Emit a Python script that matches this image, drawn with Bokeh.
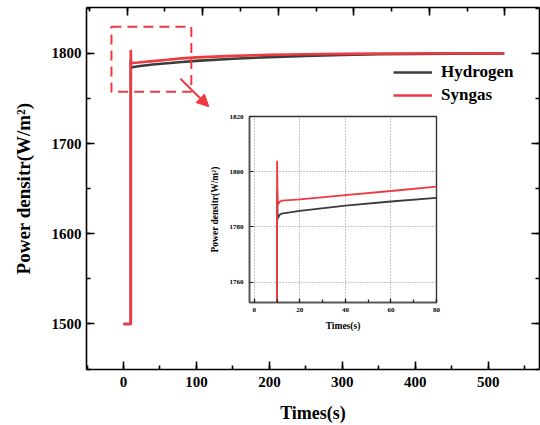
from bokeh.plotting import figure
from bokeh.models import (Range1d, LinearAxis, SingleIntervalTicker, Legend, LegendItem,
                          BoxAnnotation, Arrow, NormalHead, CustomJSTickFormatter)
from bokeh.layouts import column
from bokeh.embed import file_html
from bokeh.resources import INLINE

# ---------------- data ----------------
time_h = [0, 10, 10, 10.3, 11, 12, 20, 40, 60, 80, 100, 150, 200, 250, 300, 350, 400, 450, 522]
hydrogen = [1500, 1500, 1793, 1783.0, 1784.3, 1784.8, 1785.8, 1787.7, 1789.2, 1790.5, 1791.8,
            1794.2, 1796.0, 1797.4, 1798.4, 1799.1, 1799.6, 1799.8, 1800]
time_s = [0, 10, 10, 10.3, 11, 12, 20, 40, 60, 80, 100, 150, 200, 250, 300, 350, 400, 450, 522]
syngas = [1500, 1500, 1804, 1787.8, 1789.0, 1789.5, 1790.0, 1791.5, 1793.0, 1794.6, 1795.7,
          1797.4, 1798.5, 1799.2, 1799.6, 1799.8, 1799.9, 1800, 1800]
series_names = ["Hydrogen", "Syngas"]

BLACK = "#3c3c3c"
RED = "#ec3a40"
FONT = "Liberation Serif"

# ---------------- main figure ----------------
p = figure(width=540, height=425, frame_width=453, frame_height=362,
           output_backend="svg", toolbar_location=None,
           x_range=Range1d(-50.7, 570.3), y_range=Range1d(1449.5, 1851),
           min_border_left=86, min_border_right=1, min_border_top=7, min_border_bottom=56,
           x_axis_location=None, y_axis_location=None)
p.outline_line_color = None
p.xgrid.visible = False
p.ygrid.visible = False
p.background_fill_color = "white"
p.border_fill_color = "white"
p.extra_x_ranges = {"top": Range1d(-53.9, 545.7)}

blank = CustomJSTickFormatter(code="return '';")


def style_axis(ax, labels=True, size="15px"):
    ax.axis_line_color = "black"
    ax.axis_line_width = 1.6
    ax.major_tick_line_color = "black"
    ax.minor_tick_line_color = "black"
    ax.major_tick_line_width = 1.6
    ax.minor_tick_line_width = 1.6
    ax.major_tick_out = 0
    ax.major_tick_in = 8
    ax.minor_tick_out = 0
    ax.minor_tick_in = 4
    ax.major_label_text_font = FONT
    ax.major_label_text_font_style = "bold"
    ax.major_label_text_color = "black"
    if labels:
        ax.major_label_text_font_size = size
    else:
        ax.formatter = blank
        ax.major_label_text_font_size = "1px"
        ax.major_label_standoff = 0
        ax.axis_label_standoff = 0


xb = LinearAxis(ticker=SingleIntervalTicker(interval=100, num_minor_ticks=2),
                axis_label="Times(s)")
style_axis(xb)
xb.major_label_standoff = 7
xb.axis_label_standoff = 13
xb.axis_label_text_font = FONT
xb.axis_label_text_font_style = "bold"
xb.axis_label_text_font_size = "18px"
xb.axis_label_text_color = "black"
p.add_layout(xb, "below")

yl = LinearAxis(ticker=SingleIntervalTicker(interval=100, num_minor_ticks=2),
                axis_label="Power densitr(W/m²)")
style_axis(yl)
yl.major_label_standoff = 5
yl.axis_label_standoff = 15
yl.axis_label_text_font = FONT
yl.axis_label_text_font_style = "bold"
yl.axis_label_text_font_size = "19px"
yl.axis_label_text_color = "black"
p.add_layout(yl, "left")

xt = LinearAxis(x_range_name="top", ticker=SingleIntervalTicker(interval=100, num_minor_ticks=2))
style_axis(xt, labels=False)
p.add_layout(xt, "above")

yr = LinearAxis(ticker=SingleIntervalTicker(interval=100, num_minor_ticks=2))
style_axis(yr, labels=False)
p.add_layout(yr, "right")

rh = p.line(time_h, hydrogen, line_color=BLACK, line_width=2.6)
rs = p.line(time_s, syngas, line_color=RED, line_width=2.6)

legend = Legend(items=[LegendItem(label=series_names[0], renderers=[rh]),
                       LegendItem(label=series_names[1], renderers=[rs])],
                location=(307, 264), orientation="vertical")
legend.background_fill_alpha = 0
legend.border_line_color = None
legend.padding = 0
legend.margin = 0
legend.spacing = 3
legend.glyph_width = 39
legend.glyph_height = 20
legend.label_height = 20
legend.label_standoff = 9
legend.label_text_font = FONT
legend.label_text_font_style = "bold"
legend.label_text_font_size = "17px"
legend.label_text_color = "black"
p.add_layout(legend)

zoom_box = BoxAnnotation(left=-16.5, right=93, bottom=1757.6, top=1829.6,
                         fill_alpha=0, line_color=RED, line_alpha=1.0,
                         line_width=2, line_dash="10 6")
p.add_layout(zoom_box)
p.add_layout(Arrow(end=NormalHead(size=12, fill_color=RED, line_color=RED),
                   x_start=78, y_start=1772, x_end=117, y_end=1741,
                   line_color=RED, line_width=2))

# ---------------- inset figure ----------------
pi = figure(width=283, height=224, output_backend="svg", toolbar_location=None,
            x_range=Range1d(-2.1, 80), y_range=Range1d(1752.6, 1820),
            min_border_left=40, min_border_right=10, min_border_top=6, min_border_bottom=32,
            x_axis_location=None, y_axis_location=None)
pi.background_fill_color = "white"
pi.border_fill_color = None
pi.outline_line_color = "#333333"
pi.outline_line_width = 1.4


def style_inset_axis(ax):
    ax.axis_line_color = "#555555"
    ax.axis_line_width = 1.6
    ax.major_tick_line_color = "#222222"
    ax.minor_tick_line_color = "#222222"
    ax.major_tick_line_width = 1.2
    ax.minor_tick_line_width = 1.2
    ax.major_tick_out = 0
    ax.major_tick_in = 4
    ax.minor_tick_out = 0
    ax.minor_tick_in = 3
    ax.major_label_text_font = FONT
    ax.major_label_text_font_style = "bold"
    ax.major_label_text_color = "black"
    ax.major_label_text_font_size = "7px"
    ax.axis_label_text_font = FONT
    ax.axis_label_text_font_style = "bold"
    ax.axis_label_text_font_size = "9.5px"
    ax.axis_label_text_color = "black"


ixt = SingleIntervalTicker(interval=20, num_minor_ticks=2)
iyt = SingleIntervalTicker(interval=20, num_minor_ticks=0)
ixa = LinearAxis(ticker=ixt, axis_label="Times(s)")
style_inset_axis(ixa)
ixa.major_label_standoff = 5
ixa.axis_label_standoff = 6
pi.add_layout(ixa, "below")
iya = LinearAxis(ticker=iyt, axis_label="Power densitr(W/m²)")
style_inset_axis(iya)
iya.major_label_standoff = 6
iya.axis_label_standoff = 7
pi.add_layout(iya, "left")
pi.xgrid.ticker = ixt
pi.ygrid.ticker = iyt
for g in (pi.xgrid, pi.ygrid):
    g.grid_line_color = "#8a8a8a"
    g.grid_line_dash = "1 2"
    g.grid_line_width = 1

pi.line(time_h, hydrogen, line_color=BLACK, line_width=1.8)
pi.line(time_s, syngas, line_color=RED, line_width=1.8)

pi.styles = {"position": "absolute", "left": "163px", "top": "110px"}

layout = column(p, pi, width=540, height=425,
                styles={"overflow": "hidden", "width": "540px", "height": "425px"})
open("out.html", "w").write(file_html(layout, INLINE))
